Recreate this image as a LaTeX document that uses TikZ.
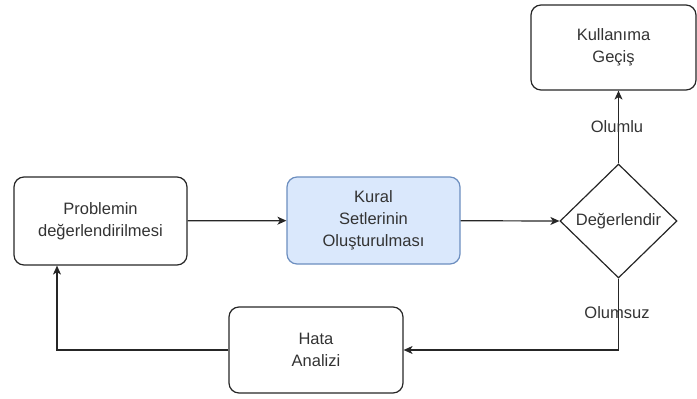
\documentclass[tikz,border=0pt]{standalone}
\usepackage{fontspec}
\setmainfont{Liberation Sans}
\usetikzlibrary{shapes.geometric,arrows.meta}
\definecolor{txtgray}{HTML}{333333}
\definecolor{blueFill}{HTML}{DAE8FC}
\definecolor{blueLine}{HTML}{6C8EBF}
\begin{document}
\begin{tikzpicture}[x=1pt,y=-1pt,
  every node/.style={font=\fontsize{16.5}{22}\selectfont, text=txtgray, align=center},
  box/.style={draw=black!85, line width=1.2pt, rounded corners=10pt, inner sep=0pt},
  decide/.style={draw=black!85, line width=1.2pt, diamond, inner sep=0pt},
  flow/.style={draw=black!85, line width=1.2pt, -{Stealth[length=9pt,width=8pt,inset=2.5pt]}},
  edgelabel/.style={font=\fontsize{16.5}{20}\selectfont}]
\useasboundingbox (0,0) rectangle (697,399);

% process steps
\node[box, minimum width=173, minimum height=88] (prob) at (100.5,221) {Problemin\\değerlendirilmesi};
\node[box, fill=blueFill, draw=blueLine, minimum width=173, minimum height=87] (kural) at (373.5,220.5) {Kural\\Setlerinin\\Oluşturulması};
\node[decide, minimum width=117, minimum height=114] (deg) at (618.5,221) {};
\node at (deg.center) {Değerlendir};
\node[box, minimum width=165, minimum height=85] (kull) at (613.5,47.5) {Kullanıma\\Geçiş};
\node[box, minimum width=174, minimum height=86] (hata) at (316,350) {Hata\\Analizi};

% connectors
\draw[flow] (prob) -- (kural);
\draw[flow] (kural) -- (deg.west);
\draw[flow] (deg.north) -- (deg.north |- kull.south);
\draw[flow] (deg.south) |- (hata.east);
\draw[flow] (hata.west) -| (57,0 |- prob.south);

% branch labels
\node[edgelabel] at (617,127) {Olumlu};
\node[edgelabel] at (617,313) {Olumsuz};
\end{tikzpicture}
\end{document}
